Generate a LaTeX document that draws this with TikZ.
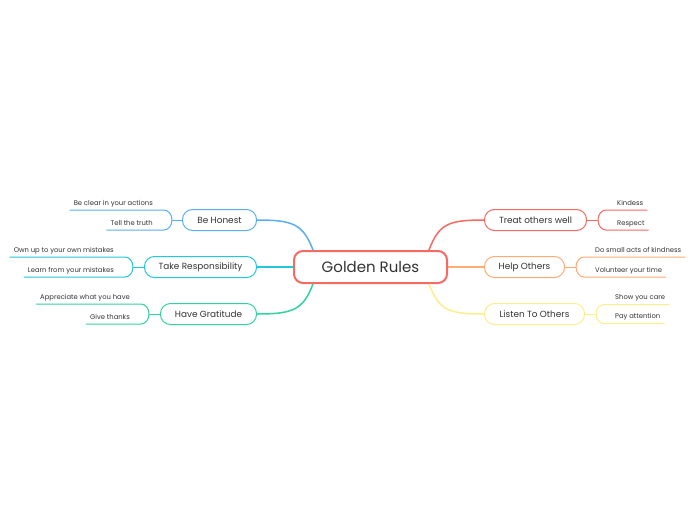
\documentclass[tikz,border=0pt]{standalone}
\usepackage{fontspec}
\setmainfont{Poppins}
\usetikzlibrary{positioning,calc}
\definecolor{gink}{HTML}{333333}
\definecolor{gred}{HTML}{F56B64}
\definecolor{gorange}{HTML}{FFAB76}
\definecolor{gyellow}{HTML}{FBEE8C}
\definecolor{gblue}{HTML}{5AAEF2}
\definecolor{gcyan}{HTML}{22C7D9}
\definecolor{ggreen}{HTML}{31D3A0}

\begin{document}
\begin{tikzpicture}[x=1pt,y=-1pt,
  root/.style={draw=gred,line width=2pt,rounded corners=9pt,minimum width=153pt,
    minimum height=32pt,text=gink,font=\fontsize{15}{17}\selectfont},
  topic/.style={draw=#1,line width=1pt,rounded corners=10pt,minimum height=21pt,
    text=gink,font=\fontsize{8.9}{10}\selectfont},
  leaf/.style={inner xsep=4pt,inner ysep=3pt,text depth=1.8pt,text=gink,
    font=\fontsize{6.8}{8}\selectfont},
  trunk/.style={draw=#1,line width=1.5pt},
  twig/.style={draw=#1,line width=1pt}]
  \fill[white] (0,0) rectangle (697,520);
  \useasboundingbox (0,0) rectangle (697,520);

  % centre
  \node[root] (golden) at (370.5,267) {Golden Rules};

  % right side topics
  \node[topic=gred,minimum width=102pt,anchor=west]    (treat)  at (484,220) {Treat others well};
  \node[topic=gorange,minimum width=80pt,anchor=west]  (help)   at (484,267) {Help Others};
  \node[topic=gyellow,minimum width=100pt,anchor=west] (listen) at (484,314) {Listen To Others};
  % left side topics
  \node[topic=gblue,minimum width=74pt,anchor=east]    (honest) at (257,220) {Be Honest};
  \node[topic=gcyan,minimum width=112pt,anchor=east]   (resp)   at (257,267) {Take Responsibility};
  \node[topic=ggreen,minimum width=96pt,anchor=east]   (grat)   at (257,314) {Have Gratitude};

  % trunks
  \draw[trunk=gred] ($(golden.north east)+(-19,0)$) .. controls +(10,-26) and +(-36,0) .. (treat.west);
  \draw[trunk=gorange] (golden.east) -- (help.west);
  \draw[trunk=gyellow] ($(golden.south east)+(-19,0)$) .. controls +(10,26) and +(-36,0) .. (listen.west);
  \draw[trunk=gblue] ($(golden.north west)+(20,0)$) .. controls +(-10,-26) and +(36,0) .. (honest.east);
  \draw[trunk=gcyan] (golden.west) -- (resp.east);
  \draw[trunk=ggreen] ($(golden.south west)+(20,0)$) .. controls +(-10,26) and +(36,0) .. (grat.east);

  % brackets
  \draw[twig=gred]    (treat.east)  -- ++(11,0) coordinate (tb);
  \draw[twig=gorange] (help.east)   -- ++(11,0) coordinate (hb);
  \draw[twig=gyellow] (listen.east) -- ++(11,0) coordinate (lb);
  \draw[twig=gblue]   (honest.west) -- ++(-10,0) coordinate (bb);
  \draw[twig=gcyan]   (resp.west)   -- ++(-11,0) coordinate (rb);
  \draw[twig=ggreen]  (grat.west)   -- ++(-11,0) coordinate (gb);

  % leaves, right
  \node[leaf,anchor=south west] (kind)  at ($(tb)+(15,-10)$) {Kindess};
  \node[leaf,anchor=south west] (resp2) at ($(tb)+(15,10)$)  {Respect};
  \node[leaf,anchor=south west] (small) at ($(hb)+(15,-10)$) {Do small acts of kindness};
  \node[leaf,anchor=south west] (vol)   at ($(hb)+(15,10)$)  {Volunteer your time};
  \node[leaf,anchor=south west] (care)  at ($(lb)+(15,-9.5)$) {Show you care};
  \node[leaf,anchor=south west] (att)   at ($(lb)+(15,9.5)$)  {Pay attention};
  % leaves, left
  \node[leaf,anchor=south east] (clear) at ($(bb)+(-15,-10)$) {Be clear in your actions};
  \node[leaf,anchor=south east] (truth) at ($(bb)+(-15,10)$)  {Tell the truth};
  \node[leaf,anchor=south east] (own)   at ($(rb)+(-15,-10)$) {Own up to your own mistakes};
  \node[leaf,anchor=south east] (learn) at ($(rb)+(-15,10)$)  {Learn from your mistakes};
  \node[leaf,anchor=south east] (appr)  at ($(gb)+(-15,-10)$) {Appreciate what you have};
  \node[leaf,anchor=south east] (thank) at ($(gb)+(-15,10)$)  {Give thanks};

  % underlines
  \draw[twig=gred] (tb) .. controls +(0,-6) and +(-4,0) .. ($(kind.south west)+(-7,0)$) -- (kind.south east);
  \draw[twig=gred] (tb) .. controls +(0,6) and +(-4,0) .. ($(resp2.south west)+(-7,0)$) -- (resp2.south east);
  \draw[twig=gorange] (hb) .. controls +(0,-6) and +(-4,0) .. ($(small.south west)+(-7,0)$) -- (small.south east);
  \draw[twig=gorange] (hb) .. controls +(0,6) and +(-4,0) .. ($(vol.south west)+(-7,0)$) -- (vol.south east);
  \draw[twig=gyellow] (lb) .. controls +(0,-6) and +(-4,0) .. ($(care.south west)+(-7,0)$) -- (care.south east);
  \draw[twig=gyellow] (lb) .. controls +(0,6) and +(-4,0) .. ($(att.south west)+(-7,0)$) -- (att.south east);
  \draw[twig=gblue] (bb) .. controls +(0,-6) and +(4,0) .. ($(clear.south east)+(7,0)$) -- (clear.south west);
  \draw[twig=gblue] (bb) .. controls +(0,6) and +(4,0) .. ($(truth.south east)+(7,0)$) -- (truth.south west);
  \draw[twig=gcyan] (rb) .. controls +(0,-6) and +(4,0) .. ($(own.south east)+(7,0)$) -- (own.south west);
  \draw[twig=gcyan] (rb) .. controls +(0,6) and +(4,0) .. ($(learn.south east)+(7,0)$) -- (learn.south west);
  \draw[twig=ggreen] (gb) .. controls +(0,-6) and +(4,0) .. ($(appr.south east)+(7,0)$) -- (appr.south west);
  \draw[twig=ggreen] (gb) .. controls +(0,6) and +(4,0) .. ($(thank.south east)+(7,0)$) -- (thank.south west);
\end{tikzpicture}
\end{document}
